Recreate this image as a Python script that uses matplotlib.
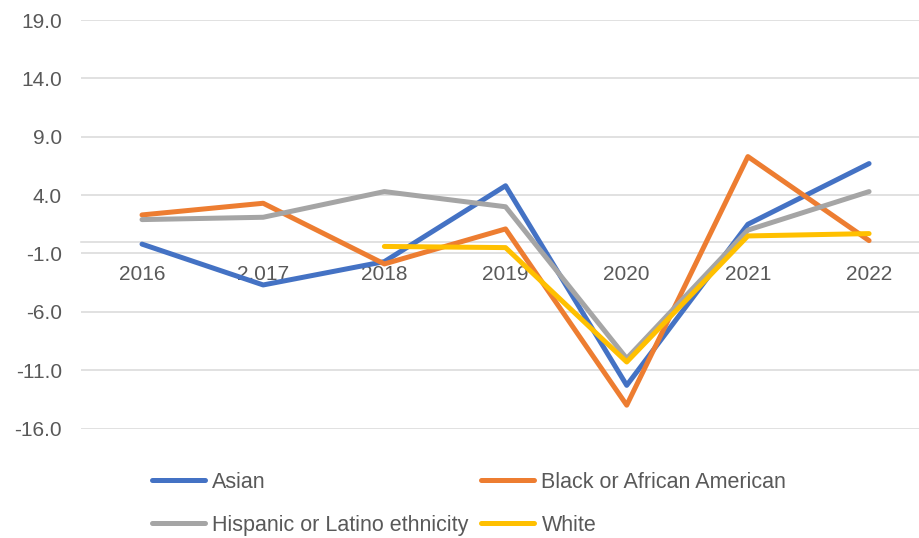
import numpy as np
import matplotlib.pyplot as plt

plt.rcParams['font.family'] = ['Liberation Sans', 'DejaVu Sans']

# 数据
years = ['2016', '2,017', '2018', '2019', '2020', '2021', '2022']
asian = [-0.2, -3.7, -1.7, 4.8, -12.3, 1.5, 6.7]
black = [2.3, 3.3, -1.9, 1.1, -14.0, 7.3, 0.1]
hispanic = [1.9, 2.1, 4.3, 3.0, -10.0, 1.0, 4.3]
white = [np.nan, np.nan, -0.4, -0.5, -10.3, 0.5, 0.7]
y_ticks = [-16, -11, -6, -1, 4, 9, 14, 19]

fig = plt.figure(figsize=(9.19, 5.38), dpi=100)
ax = fig.add_axes([0.0886, 0.2035, 0.923, 0.7593])

x = np.arange(len(years))
l1, = ax.plot(x, asian, color='#4472C4', lw=3.6, label='Asian', solid_capstyle='round')
l2, = ax.plot(x, black, color='#ED7D31', lw=3.6, label='Black or African American', solid_capstyle='round')
l3, = ax.plot(x, hispanic, color='#A5A5A5', lw=3.6, label='Hispanic or Latino ethnicity', solid_capstyle='round')
l4, = ax.plot(x, white, color='#FFC000', lw=3.6, label='White', solid_capstyle='round')

ax.set_xlim(-0.5, len(years) - 0.5)
ax.set_ylim(-16, 19)
ax.set_yticks(y_ticks)
ax.set_yticklabels([f'{v:.1f}' for v in y_ticks])
ax.set_xticks(x)
ax.set_xticklabels(years)

ax.grid(axis='y', color='#D9D9D9', lw=1.1)
ax.set_axisbelow(True)
for s in ['top', 'right', 'left']:
    ax.spines[s].set_visible(False)
ax.spines['bottom'].set_position(('data', 0))
ax.spines['bottom'].set_color('#D9D9D9')
ax.spines['bottom'].set_linewidth(1.1)
ax.spines['bottom'].set_zorder(0.5)
ax.tick_params(axis='both', length=0, labelsize=15, labelcolor='#595959')
ax.tick_params(axis='x', pad=16.5)
ax.tick_params(axis='y', pad=14)

# 图例按行排列
fig.legend([l1, l3, l2, l4],
           ['Asian', 'Hispanic or Latino ethnicity', 'Black or African American', 'White'],
           loc='upper left', bbox_to_anchor=(0.1654, 0.123), ncol=2, frameon=False,
           fontsize=15.5, labelcolor='#595959', handlelength=2.46, handletextpad=0.33,
           columnspacing=0.6, labelspacing=1.02, borderaxespad=0, borderpad=0)

fig.savefig('out.png', dpi=100)
